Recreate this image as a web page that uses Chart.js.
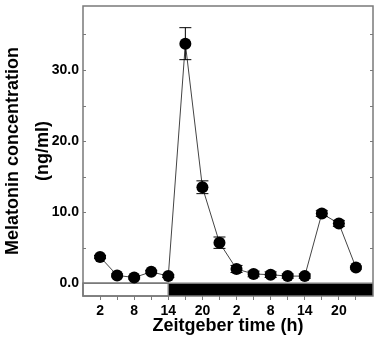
<!DOCTYPE html>
<html>
<head>
<meta charset="utf-8">
<script src="https://cdn.jsdelivr.net/npm/chart.js@4.4.1/dist/chart.umd.min.js"></script>
<style>
  html, body { margin: 0; padding: 0; background: #fff; }
  #wrap { width: 380px; height: 341px; position: relative; }
</style>
</head>
<body>
<div id="wrap"><canvas id="melatoninChart"></canvas></div>
<script>
// Sampling times (Zeitgeber time, hours, two consecutive days)
const zeitgeberTimes = [2, 5, 8, 11, 14, 17, 20, 23, 26, 29, 32, 35, 38, 41, 44, 47];
// Mean melatonin concentration (ng/ml) and SEM
const melatoninMean = [3.7, 1.1, 0.8, 1.6, 1.0, 33.7, 13.5, 5.7, 2.0, 1.3, 1.2, 1.0, 1.0, 9.8, 8.4, 2.2];
const melatoninSem = [0.2, 0.2, 0.2, 0.2, 0.2, 2.25, 0.9, 0.8, 0.5, 0.4, 0.4, 0.3, 0.3, 0.4, 0.4, 0.2];
// Labelled x ticks and light phase end
const xTickLabels = [2, 8, 14, 20, 26, 32, 38, 44];
const lightsOff = 14;

const FRAME = '#7a7a7a';
const FONT = 'Liberation Sans, Arial, sans-serif';

// Light/dark bar, frame and inward y ticks
const framePlugin = {
    id: 'frame',
    beforeDatasetsDraw(chart) {
        const { ctx, chartArea: a, scales: { x, y } } = chart;
        const y0 = y.getPixelForValue(0);
        const xOff = x.getPixelForValue(lightsOff);
        ctx.save();
        ctx.fillStyle = '#000';
        ctx.fillRect(xOff, y0, a.right - xOff, a.bottom - y0);
        ctx.strokeStyle = FRAME;
        ctx.lineWidth = 1.5;
        ctx.strokeRect(a.left, y0, xOff - a.left, a.bottom - y0);
        ctx.beginPath();
        ctx.moveTo(a.left, y0);
        ctx.lineTo(a.right, y0);
        ctx.stroke();
        ctx.strokeRect(a.left, a.top, a.right - a.left, a.bottom - a.top);
        ctx.lineWidth = 1;
        ctx.beginPath();
        for (let v = 0; v <= 35; v += 5) {
            const py = Math.round(y.getPixelForValue(v)) + 0.5;
            ctx.moveTo(a.left, py);
            ctx.lineTo(a.left + 3, py);
            ctx.moveTo(a.right, py);
            ctx.lineTo(a.right - 3, py);
        }
        ctx.stroke();
        ctx.restore();
    }
};

// SEM error bars with caps
const errorBarPlugin = {
    id: 'errorBars',
    afterDatasetsDraw(chart) {
        const { ctx, scales: { x, y } } = chart;
        ctx.save();
        ctx.strokeStyle = '#000';
        ctx.lineWidth = 1;
        zeitgeberTimes.forEach((t, i) => {
            const px = x.getPixelForValue(t);
            const top = y.getPixelForValue(melatoninMean[i] + melatoninSem[i]);
            const bot = y.getPixelForValue(melatoninMean[i] - melatoninSem[i]);
            ctx.beginPath();
            ctx.moveTo(px, top);
            ctx.lineTo(px, bot);
            ctx.moveTo(px - 6, top);
            ctx.lineTo(px + 6, top);
            ctx.moveTo(px - 6, bot);
            ctx.lineTo(px + 6, bot);
            ctx.stroke();
        });
        ctx.restore();
    }
};

const ctx = document.getElementById('melatoninChart').getContext('2d');
new Chart(ctx, {
    type: 'line',
    data: {
        datasets: [{
            data: zeitgeberTimes.map((t, i) => ({ x: t, y: melatoninMean[i] })),
            borderColor: '#444',
            borderWidth: 1,
            tension: 0,
            pointRadius: 6,
            pointBackgroundColor: '#000',
            pointBorderColor: '#000',
            pointBorderWidth: 0
        }]
    },
    options: {
        responsive: true,
        maintainAspectRatio: false,
        animation: false,
        layout: { padding: { top: 6, right: 7, left: 0, bottom: 0 } },
        plugins: { legend: { display: false }, tooltip: { enabled: false } },
        scales: {
            x: {
                type: 'linear',
                min: -1,
                max: 50,
                afterBuildTicks: scale => {
                    const ticks = [];
                    for (let v = 2; v <= 47; v += 3) ticks.push({ value: v });
                    scale.ticks = ticks;
                },
                afterFit: scale => {
                    scale.height = 45;
                    scale.paddingLeft = 0;
                    scale.paddingRight = 0;
                },
                grid: { drawOnChartArea: false, drawTicks: true, tickLength: 4, color: FRAME },
                border: { display: false },
                ticks: {
                    autoSkip: false,
                    maxRotation: 0,
                    padding: 3,
                    color: '#000',
                    font: { family: FONT, size: 14, weight: 'bold' },
                    callback: v => xTickLabels.includes(v) ? String(v % 24) : ''
                },
                title: {
                    display: true,
                    text: 'Zeitgeber time (h)',
                    color: '#000',
                    font: { family: FONT, size: 18, weight: 'bold' },
                    padding: { top: 0, bottom: 4 }
                }
            },
            y: {
                min: -1.8,
                max: 39,
                afterBuildTicks: scale => {
                    const ticks = [];
                    for (let v = 0; v <= 35; v += 5) ticks.push({ value: v });
                    scale.ticks = ticks;
                },
                afterFit: scale => {
                    scale.width = 83;
                    scale.paddingTop = 0;
                    scale.paddingBottom = 0;
                },
                grid: { display: false, drawTicks: false },
                border: { display: false },
                ticks: {
                    padding: 4,
                    color: '#000',
                    font: { family: FONT, size: 14, weight: 'bold' },
                    callback: v => v % 10 === 0 ? v.toFixed(1) : ''
                },
                title: {
                    display: true,
                    text: ['Melatonin concentration', '(ng/ml)'],
                    color: '#000',
                    font: { family: FONT, size: 18, weight: 'bold', lineHeight: 1.667 },
                    padding: { top: -2, bottom: 0 }
                }
            }
        }
    },
    plugins: [framePlugin, errorBarPlugin]
});
</script>
</body>
</html>
